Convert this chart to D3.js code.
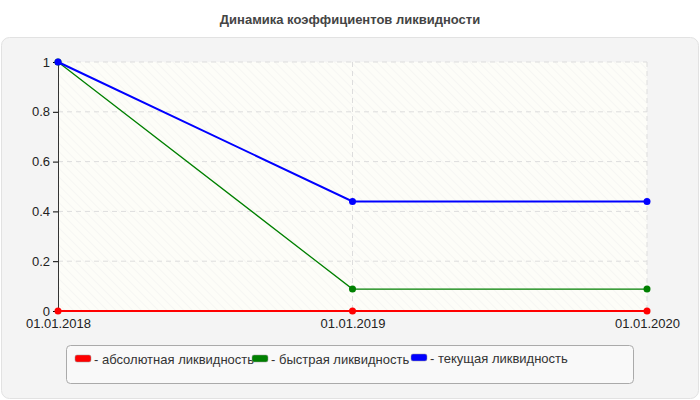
<!DOCTYPE html>
<html><head><meta charset="utf-8">
<script src="https://cdn.jsdelivr.net/npm/d3@7"></script>
<style>body{margin:0;background:#fff;font-family:"Liberation Sans",Arial,sans-serif}</style>
</head><body><svg id="chart" width="700" height="400"></svg>
<script>
var dates = ["01.01.2018", "01.01.2019", "01.01.2020"];
var absolute = [0, 0, 0];
var quick = [1, 0.088, 0.088];
var current = [1, 0.44, 0.44];
var seriesNames = ["- абсолютная ликвидность", "- быстрая ликвидность", "- текущая ликвидность"];
var colors = ["#ff0000", "#008000", "#0000ff"];
var yTicks = [0, 0.2, 0.4, 0.6, 0.8, 1];

var svg = d3.select("#chart");
var pLeft = 58, pRight = 647, pTop = 62, pBottom = 311;
var font = "'Liberation Sans',Arial,sans-serif";

svg.append("text").attr("x", 350).attr("y", 24).attr("text-anchor", "middle")
  .attr("font-size", 13).attr("font-weight", "bold").attr("fill", "#444")
  .attr("font-family", font).text("Динамика коэффициентов ликвидности");

svg.append("rect").attr("x", 1.5).attr("y", 37.5).attr("width", 697).attr("height", 361)
  .attr("rx", 8).attr("fill", "#f4f4f4").attr("stroke", "#e2e2e2");

// hatched plot background
var pat = svg.append("defs").append("pattern").attr("id", "hatch")
  .attr("width", 6).attr("height", 6).attr("patternUnits", "userSpaceOnUse")
  .attr("patternTransform", "rotate(-45)");
pat.append("rect").attr("width", 6).attr("height", 6).attr("fill", "#fdfdf8");
pat.append("line").attr("x1", 0).attr("y1", 0).attr("x2", 0).attr("y2", 6)
  .attr("stroke", "#efefef").attr("stroke-width", 1);
svg.append("rect").attr("x", pLeft).attr("y", pTop).attr("width", pRight - pLeft)
  .attr("height", pBottom - pTop).attr("fill", "url(#hatch)");

var x = d3.scalePoint().domain(dates).range([pLeft, pRight]);
var y = d3.scaleLinear().domain([0, 1]).range([pBottom, pTop]);

// grid
svg.append("g").selectAll("line").data(yTicks.slice(1)).join("line")
  .attr("x1", pLeft).attr("x2", pRight).attr("y1", d => y(d)).attr("y2", d => y(d))
  .attr("stroke", "#ddd").attr("stroke-dasharray", "5,4");
svg.append("g").selectAll("line").data(dates.slice(1)).join("line")
  .attr("x1", d => x(d)).attr("x2", d => x(d)).attr("y1", pTop).attr("y2", pBottom)
  .attr("stroke", "#ddd").attr("stroke-dasharray", "5,4");

var yAxis = svg.append("g").attr("transform", "translate(" + pLeft + ",0)")
  .call(d3.axisLeft(y).tickValues(yTicks).tickFormat(d3.format("")).tickSize(5).tickSizeOuter(0));
yAxis.select(".domain").attr("stroke", "#333");
yAxis.selectAll("text").attr("font-size", 13).attr("fill", "#222").attr("font-family", font);

var xAxis = svg.append("g").attr("transform", "translate(0," + pBottom + ")")
  .call(d3.axisBottom(x).tickSize(0).tickPadding(8));
xAxis.select(".domain").remove();
xAxis.selectAll("text").attr("font-size", 13).attr("fill", "#222").attr("font-family", font);

var all = [absolute, quick, current];
var line = d3.line().x((d, i) => x(dates[i])).y(d => y(d));
all.forEach(function (vals, k) {
  svg.append("path").datum(vals).attr("d", line).attr("fill", "none")
    .attr("stroke", colors[k]).attr("stroke-width", k == 1 ? 1.3 : 2);
  svg.append("g").selectAll("circle").data(vals).join("circle")
    .attr("cx", (d, i) => x(dates[i])).attr("cy", d => y(d)).attr("r", 3.5).attr("fill", colors[k]);
});

// legend
svg.append("rect").attr("x", 66.5).attr("y", 345.5).attr("width", 567).attr("height", 38)
  .attr("rx", 4).attr("fill", "#f9f9f9").attr("stroke", "#aaa");
var legX = [75, 252, 411];
var lg = svg.append("g").selectAll("g").data(seriesNames).join("g")
  .attr("transform", (d, i) => "translate(" + legX[i] + "," + (i == 2 ? 359 : 360) + ")");
lg.append("rect").attr("width", 16).attr("height", 7).attr("y", -5).attr("rx", 2)
  .attr("fill", (d, i) => colors[i]).attr("stroke", "#999").attr("stroke-width", 0.5);
lg.append("text").attr("x", 19).attr("y", 4).attr("font-size", 13).attr("fill", "#333")
  .attr("font-family", font).text(d => d);
</script></body></html>
